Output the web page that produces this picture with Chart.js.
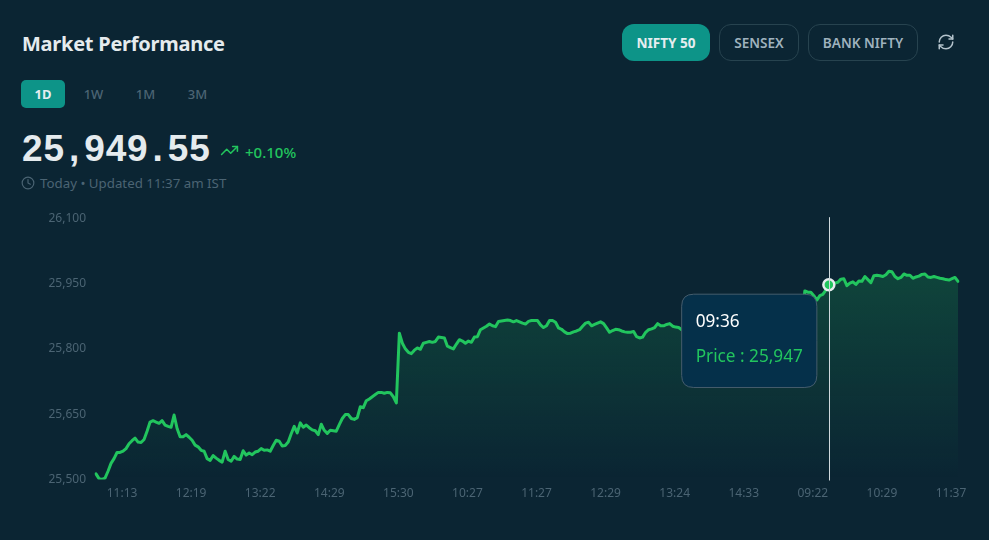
<!DOCTYPE html>
<html><head><meta charset="utf-8">
<script src="https://cdn.jsdelivr.net/npm/chart.js@4"></script>
<style>
html,body{margin:0;padding:0;width:989px;height:540px;overflow:hidden;background:#0b2533;font-family:"Noto Sans",sans-serif}
.a{position:absolute;white-space:nowrap;line-height:1}
.btn{position:absolute;top:24px;height:37px;box-sizing:border-box;border-radius:12px;display:flex;align-items:center;justify-content:center;font-size:13.6px;font-weight:600;color:#9fb2be;border:1px solid #27434f}
.btn.on{background:#0d9488;color:#e5edf0;border:none;font-weight:700}
.tab{position:absolute;top:80px;height:28px;display:flex;align-items:center;justify-content:center;font-size:13px;font-weight:500;color:#4b6473}
.tab.on{background:#0d9488;color:#e5edf0;border-radius:5px;font-weight:700}
#wrap{position:absolute;left:0;top:201px;width:989px;height:309px}
</style></head><body>
<div class="a" style="left:22px;top:34px;font-size:20px;font-weight:700;letter-spacing:-0.25px;color:#e5ebee">Market Performance</div>
<div class="btn on" style="left:622px;width:88px">NIFTY 50</div>
<div class="btn" style="left:719px;width:80px">SENSEX</div>
<div class="btn" style="left:808px;width:110px">BANK NIFTY</div>
<svg class="a" style="left:937px;top:33px" width="18" height="18" viewBox="0 0 24 24" fill="none" stroke="#b4c3cc" stroke-width="2" stroke-linecap="round" stroke-linejoin="round"><path d="M3 12a9 9 0 0 1 9-9 9.75 9.75 0 0 1 6.74 2.74L21 8"/><path d="M21 3v5h-5"/><path d="M21 12a9 9 0 0 1-9 9 9.75 9.75 0 0 1-6.74-2.74L3 16"/><path d="M8 16H3v5"/></svg>
<div class="tab on" style="left:21px;width:44px">1D</div>
<div class="tab" style="left:71.5px;width:44px">1W</div>
<div class="tab" style="left:123.5px;width:44px">1M</div>
<div class="tab" style="left:175.5px;width:44px">3M</div>
<div class="a" style="left:22px;top:130px;font-family:'Liberation Sans';font-size:37px;font-weight:700;letter-spacing:.9px;color:#e5ebee">25<span style="margin:0 4px">,</span>949<span style="margin:0 4px">.</span>55</div>
<svg class="a" style="left:220px;top:141px" width="19" height="19" viewBox="0 0 24 24" fill="none" stroke="#22c55e" stroke-width="2" stroke-linecap="round" stroke-linejoin="round"><path d="M22 7 13.5 15.5 8.5 10.5 2 17"/><path d="M16 7h6v6"/></svg>
<div class="a" style="left:245px;top:145px;font-size:15px;font-weight:500;color:#22c55e">+0.10%</div>
<svg class="a" style="left:21px;top:176px" width="14" height="14" viewBox="0 0 24 24" fill="none" stroke="#4b6473" stroke-width="2" stroke-linecap="round" stroke-linejoin="round"><circle cx="12" cy="12" r="10"/><path d="M12 6v6l4 2"/></svg>
<div class="a" style="left:40px;top:177px;font-size:13.3px;color:#4b6473">Today • Updated 11:37 am IST</div>
<div id="wrap"><canvas id="c" width="989" height="309"></canvas></div>
<script>
const tickLabels = ["11:13","12:19","13:22","14:29","15:30","10:27","11:27","12:29","13:24","14:33","09:22","10:29","11:37"];
const firstTickIndex = 9, tickEvery = 23;
const hoverIndex = 244, hoverTime = "09:36";
const yTicks = [25500,25650,25800,25950,26100];
const prices = [
25513,25502,25500,25503,25519,25537,25548,25562,25562,25565,25571,25582,25589,25595,25586,25585,25592,25611,25632,25635,25632,25629,25635,25625,25622,25620,25648,25617,25598,25598,25603,25597,25590,25579,25575,25567,25565,25548,25544,25555,25549,25544,25540,25565,25546,25542,25553,25547,25546,25566,25556,25561,25557,25563,25565,
25571,25567,25568,25565,25578,25590,25588,25577,25578,25586,25605,25622,25607,25630,25620,25625,25619,25614,25612,25603,25627,25613,25606,25613,25612,25611,25626,25640,25649,25649,25640,25638,25642,25667,25665,25681,25685,25690,25695,25700,25700,25698,25700,25699,25690,25676,
25836,25813,25800,25792,25789,25797,25802,25799,25813,25815,25817,25815,25817,25827,25826,25825,25806,25803,25800,25811,25821,25818,25813,25818,25815,25827,25828,25844,25848,25852,25857,25853,25851,25863,25864,25865,25866,25865,25862,25865,25862,25859,25857,25863,25865,25865,25865,25855,25849,
25853,25865,25865,25861,25848,25845,25839,25835,25836,25839,25841,25844,25852,25859,25861,25853,25856,25859,25862,25858,25848,25838,25842,25845,25844,25841,25839,25838,25838,25840,25828,25825,25827,25838,25844,25846,25849,25858,25853,25853,25856,25858,25852,25850,25849,25844,
25843,25846,25842,25838,25835,25836,25838,25841,25844,25846,25848,25850,25852,25849,25846,25845,25848,25851,25853,25850,25848,25846,25844,25842,25845,25848,25850,25852,25855,25853,25850,25848,25851,25854,25856,25853,25850,25852,25855,25858,
25933,25930,25930,25922,25912,25922,25925,25935,25947,25950,25951,25953,25960,25961,25945,25951,25954,25948,25956,25955,25966,25959,25952,25968,25969,25968,25966,25970,25978,25977,25966,25961,25964,25972,25969,25969,25962,25965,25967,25971,25972,25965,25964,25966,25964,25962,25961,25959,25958,25961,25964,25955
];
const labels = prices.map((_, i) => {
  if (i === hoverIndex) return hoverTime;
  const k = (i - firstTickIndex) / tickEvery;
  return Number.isInteger(k) && tickLabels[k] ? tickLabels[k] : "";
});
Chart.Tooltip.positioners.beside = function (items) {
  if (!items.length) return false;
  return { x: items[0].element.x - 12, y: items[0].element.y + 56 };
};
const crosshair = {
  id: "crosshair",
  afterDatasetsDraw(ch) {
    const x = ch.scales.x.getPixelForValue(hoverIndex), a = ch.chartArea, c = ch.ctx;
    c.save(); c.strokeStyle = "#cfd8dc"; c.lineWidth = 1;
    c.beginPath(); c.moveTo(Math.round(x) + .5, a.top - 1); c.lineTo(Math.round(x) + .5, a.bottom + 1); c.stroke();
    c.restore();
  }
};
const ctx = document.getElementById("c");
const chart = new Chart(ctx, {
  type: "line",
  plugins: [crosshair],
  data: { labels, datasets: [{
    data: prices,
    borderColor: "#22c55e", borderWidth: 3, tension: 0, borderJoinStyle: "round", borderCapStyle: "round",
    pointRadius: 0, pointHoverRadius: 5.5, pointHoverBorderWidth: 2.5,
    pointHoverBackgroundColor: "#22c55e", pointHoverBorderColor: "#e5ebee",
    fill: "start",
    backgroundColor(c) {
      const a = c.chart.chartArea;
      if (!a) return "transparent";
      const g = c.chart.ctx.createLinearGradient(0, a.top, 0, a.bottom);
      g.addColorStop(0, "rgba(34,197,94,0.25)");
      g.addColorStop(1, "rgba(34,197,94,0)");
      return g;
    }
  }]},
  options: {
    responsive: false, animation: false, events: [],
    layout: { padding: { top: 2, right: 31, left: 0, bottom: 0 } },
    scales: {
      x: {
        offset: false, grid: { display: false, tickLength: 0 }, border: { display: false },
        afterFit(s) { s.height = 30.5; },
        ticks: { autoSkip: false, maxRotation: 0, minRotation: 0, padding: 7, labelOffset: -1, color: "#4b6473",
          font: { family: "Noto Sans", size: 12 },
          callback(v, i) { return i === hoverIndex ? "" : labels[i]; } }
      },
      y: {
        min: yTicks[0], max: yTicks[yTicks.length - 1],
        grid: { display: false, tickLength: 0 }, border: { display: false },
        afterFit(s) { s.width = 96; },
        afterBuildTicks(s) { s.ticks = yTicks.map(value => ({ value })); },
        ticks: { padding: 10, color: "#4b6473", font: { family: "Noto Sans", size: 12 },
          callback: v => v.toLocaleString("en-US") }
      }
    },
    plugins: {
      legend: { display: false },
      tooltip: {
        position: "beside", xAlign: "right", yAlign: "center", caretSize: 0, caretPadding: 0,
        backgroundColor: "#05304a", borderColor: "#465d6d", borderWidth: 1, cornerRadius: 12,
        displayColors: false, padding: { top: 18, bottom: 20.5, left: 14, right: 14 }, titleMarginBottom: 13.5,
        titleColor: "#ffffff", bodyColor: "#22c55e",
        titleFont: { family: "Noto Sans", size: 17.2, weight: "normal" },
        bodyFont: { family: "Noto Sans", size: 17.2 },
        callbacks: {
          title: items => items[0].label,
          label: i => "Price : " + i.parsed.y.toLocaleString("en-US")
        }
      }
    }
  }
});
const act = [{ datasetIndex: 0, index: hoverIndex }];
chart.setActiveElements(act);
chart.tooltip.setActiveElements(act, { x: 0, y: 0 });
chart.update();
</script>
</body></html>
